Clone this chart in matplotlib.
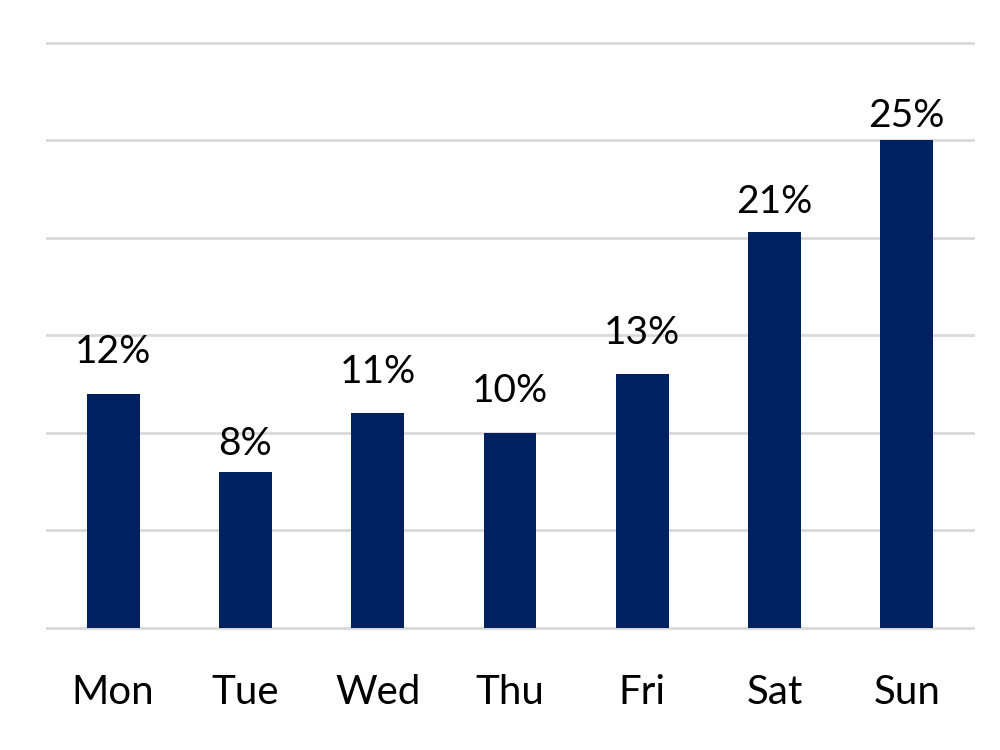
import matplotlib.pyplot as plt

# data
days = ['Mon', 'Tue', 'Wed', 'Thu', 'Fri', 'Sat', 'Sun']
shares = [12, 8, 11, 10, 13, 20.3, 25]
share_labels = ['12%', '8%', '11%', '10%', '13%', '21%', '25%']

# label gap above each bar, points (some labels sit closer in the original)
label_gap = [22.3, 12.2, 22.3, 22.3, 22.3, 13.7, 9.4]

plt.rcParams['font.family'] = ['Lato', 'DejaVu Sans']

fig = plt.figure(figsize=(10, 7.5), dpi=100)
ax = fig.add_axes([0.047, 0.1627, 0.926, 0.78])

x = range(len(days))
bars = ax.bar(x, shares, width=0.4, color='#002060', zorder=3)

# value labels above bars
for xi, v, lab, gap in zip(x, shares, share_labels, label_gap):
    ax.annotate(lab, xy=(xi, v), xytext=(0, gap), textcoords='offset points',
                ha='center', va='baseline', fontsize=28, color='black', zorder=4)

ax.set_xlim(-0.5, 6.5)
ax.set_ylim(0, 30)
ax.set_yticks(range(0, 31, 5))
ax.yaxis.grid(True, color='#d9d9d9', linewidth=2, zorder=0)
for gl in ax.get_ygridlines():
    gl.set_clip_on(False)
ax.set_yticklabels([])
ax.tick_params(axis='y', length=0)
ax.set_xticks(list(x))
ax.set_xticklabels(days, fontsize=29)
ax.tick_params(axis='x', length=0, pad=33)
for s in ax.spines.values():
    s.set_visible(False)

fig.savefig('out.png', dpi=100)
